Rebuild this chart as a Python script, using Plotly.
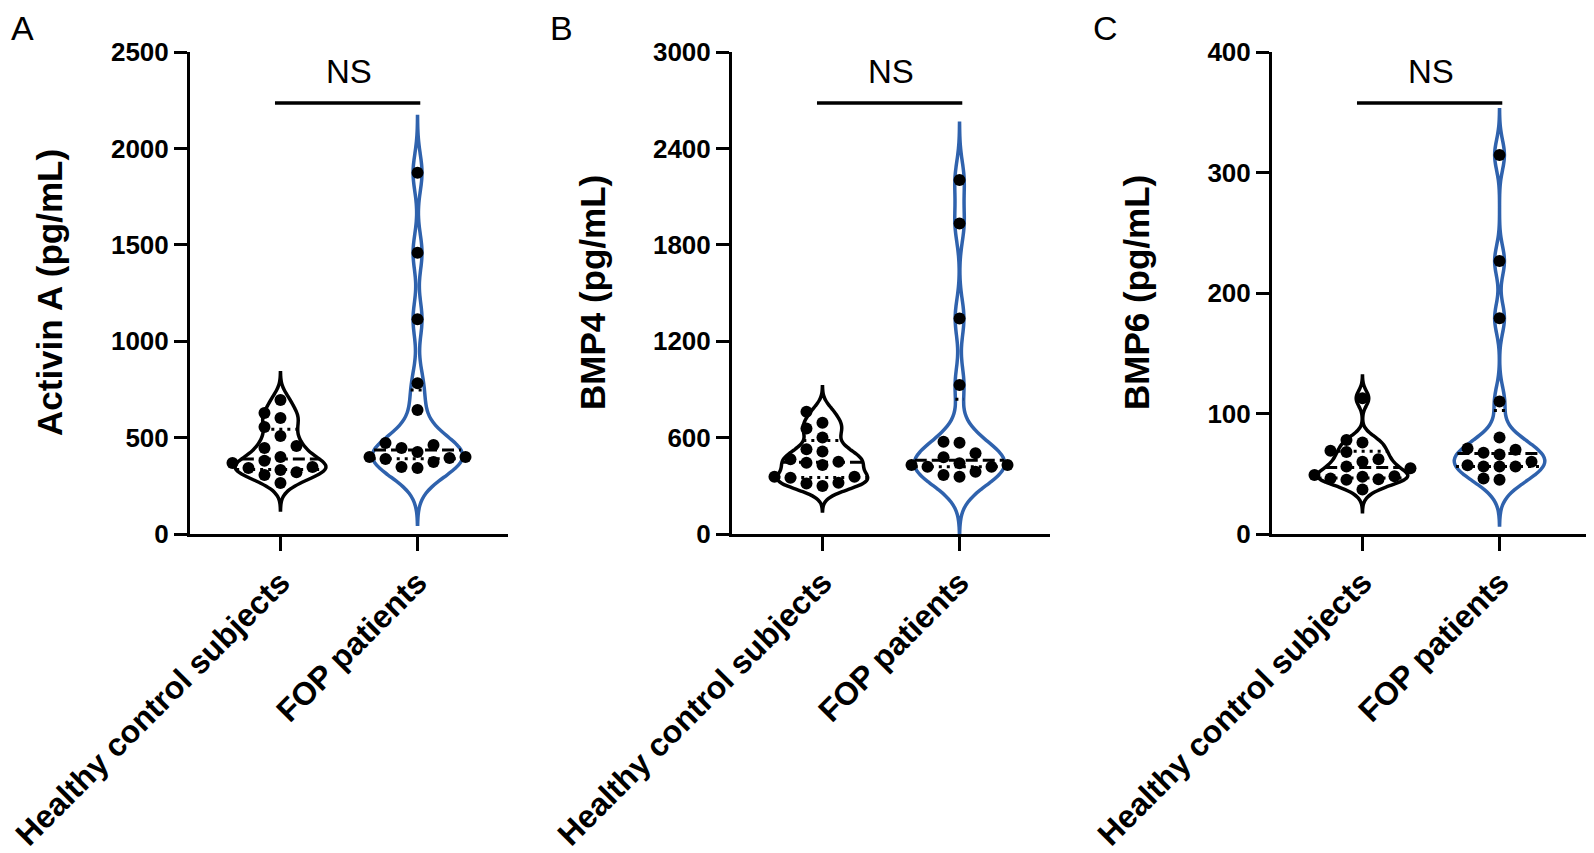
import numpy as np
import plotly.graph_objects as go

# groups on the x axis
groups = ["Healthy control subjects", "FOP patients"]

# values (pg/mL)
activin_healthy = [695, 628, 602, 555, 508, 456, 446, 399, 380, 368, 347, 342, 332, 320, 306, 265]
activin_fop = [1874, 1459, 1114, 782, 643, 472, 462, 446, 425, 399, 399, 394, 389, 373, 347, 342]
bmp4_healthy = [761, 692, 657, 601, 527, 513, 465, 450, 443, 429, 357, 357, 350, 319, 315, 299]
bmp4_fop = [2203, 1933, 1342, 927, 574, 568, 502, 477, 440, 429, 429, 419, 419, 388, 367, 357]
bmp6_healthy = [112.6, 78, 76, 69, 68, 62, 60, 56, 54.5, 49, 48, 47.5, 46, 45.4, 45, 37]
bmp6_fop = [314.5, 226.6, 179, 110, 80, 71, 70, 67.5, 66, 57, 56, 56, 56, 46, 45, 60]

panels = [
    dict(letter="A", title="Activin A (pg/mL)", ymax=2500, dtick=500,
         data=[activin_healthy, activin_fop], bw=[47, 97]),
    dict(letter="B", title="BMP4 (pg/mL)", ymax=3000, dtick=600,
         data=[bmp4_healthy, bmp4_fop], bw=[52, 118]),
    dict(letter="C", title="BMP6 (pg/mL)", ymax=400, dtick=100,
         data=[bmp6_healthy, bmp6_fop], bw=[6.2, 12.5]),
]

W, H = 1594, 853
OFF = 8                        # page body margin around the plot div
FW, FH = W - OFF, H - OFF
axis_left = [190, 732, 1272]   # px in the page
panel_w = 318
y_top, y_bot = 52, 534
xr = [-0.66, 1.66]
vwidth = 0.66
colors = ["black", "#2F62AD"]
font = "Arial, Liberation Sans, sans-serif"


def px(x):
    return (x - OFF) / FW


def py(y):
    return 1 - (y - OFF) / FH


def kde(vals, bw, pts):
    v = np.asarray(vals, float)
    z = (pts[:, None] - v[None, :]) / bw
    return np.exp(-0.5 * z ** 2).sum(axis=1) / (len(v) * bw * np.sqrt(2 * np.pi))


def swarm(vals, ppu_y, ppu_x, step=16, diam=12):
    vals = np.asarray(vals, float)
    offs = np.zeros(len(vals))
    placed = []
    for i in np.argsort(vals):
        yp = vals[i] * ppu_y
        for k in [0, -1, 1, -2, 2, -3, 3, -4, 4]:
            xp = k * step
            if all((xp - a) ** 2 + (yp - b) ** 2 >= diam ** 2 for a, b in placed):
                break
        placed.append((xp, yp))
        offs[i] = xp / ppu_x
    return offs


fig = go.Figure()

for p, pn in enumerate(panels):
    sfx = "" if p == 0 else str(p + 1)
    xa, ya = "x" + sfx, "y" + sfx
    ppu_y = (y_bot - y_top) / pn["ymax"]
    ppu_x = panel_w / (xr[1] - xr[0])

    for g, vals in enumerate(pn["data"]):
        bw = pn["bw"][g]
        span = [min(vals) - 3 * bw, max(vals) + 3 * bw]
        fig.add_trace(go.Violin(
            x=[g] * len(vals), y=vals, xaxis=xa, yaxis=ya,
            bandwidth=bw, spanmode="manual", span=span,
            width=vwidth, points=False, fillcolor="rgba(0,0,0,0)",
            line=dict(color=colors[g], width=3.5), hoverinfo="skip"))

        # median and quartile lines across the violin
        grid = np.linspace(span[0], span[1], 2000)
        dmax = kde(vals, bw, grid).max()
        q1, med, q3 = np.percentile(vals, [25, 50, 75], method="weibull")
        for q, dash in [(q1, "3px,5px"), (q3, "3px,5px"), (med, "12px,5px")]:
            half = kde(vals, bw, np.array([q]))[0] / dmax * vwidth / 2
            fig.add_trace(go.Scatter(
                x=[g - half, g + half], y=[q, q], xaxis=xa, yaxis=ya,
                mode="lines", line=dict(color="black", width=3, dash=dash),
                hoverinfo="skip"))

        offs = swarm(vals, ppu_y, ppu_x)
        fig.add_trace(go.Scatter(
            x=g + offs, y=vals, xaxis=xa, yaxis=ya, mode="markers",
            marker=dict(color="black", size=12), hoverinfo="skip"))

    fig.layout["xaxis" + sfx] = dict(
        domain=[px(axis_left[p]), px(axis_left[p] + panel_w)], anchor=ya, range=xr,
        tickvals=[0, 1], ticktext=groups, tickangle=-45, automargin=False,
        showline=True, linewidth=3, linecolor="black",
        ticks="outside", ticklen=14, tickwidth=3, tickcolor="black",
        showgrid=False, zeroline=False,
        tickfont=dict(family=font, size=32, color="black", weight="bold"))
    fig.layout["yaxis" + sfx] = dict(
        domain=[py(y_bot), py(y_top)], anchor=xa,
        range=[0, pn["ymax"]], dtick=pn["dtick"], automargin=False,
        showline=True, linewidth=3, linecolor="black",
        ticks="outside", ticklen=13, tickwidth=3, tickcolor="black",
        showgrid=False, zeroline=False,
        tickfont=dict(family=font, size=26, color="black", weight="bold"))

    # significance bar
    fig.add_shape(type="line", xref=xa, yref=ya + " domain", x0=-0.04, x1=1.02,
                  y0=0.894, y1=0.894, line=dict(color="black", width=3.5))
    fig.add_annotation(text="NS", xref=xa, yref=ya + " domain", x=0.5, y=0.96,
                       xanchor="center", yanchor="middle", showarrow=False,
                       font=dict(family=font, size=33, color="black"))

    # y-axis title and panel letter
    title_x = [50, 593, 1137][p]
    fig.add_annotation(text=pn["title"], textangle=-90, xref="paper", yref="paper",
                       x=px(title_x), y=py(293), xanchor="center", yanchor="middle",
                       showarrow=False,
                       font=dict(family=font, size=35, color="black", weight="bold"))
    letter_x = [22, 561, 1105][p]
    fig.add_annotation(text=pn["letter"], xref="paper", yref="paper",
                       x=px(letter_x), y=1, xanchor="center", yanchor="top",
                       borderpad=0, showarrow=False,
                       font=dict(family=font, size=34, color="black"))

fig.update_layout(width=FW, height=FH, margin=dict(l=0, r=0, t=0, b=0),
                  paper_bgcolor="white", plot_bgcolor="white", showlegend=False)

fig.write_html("out.html")
